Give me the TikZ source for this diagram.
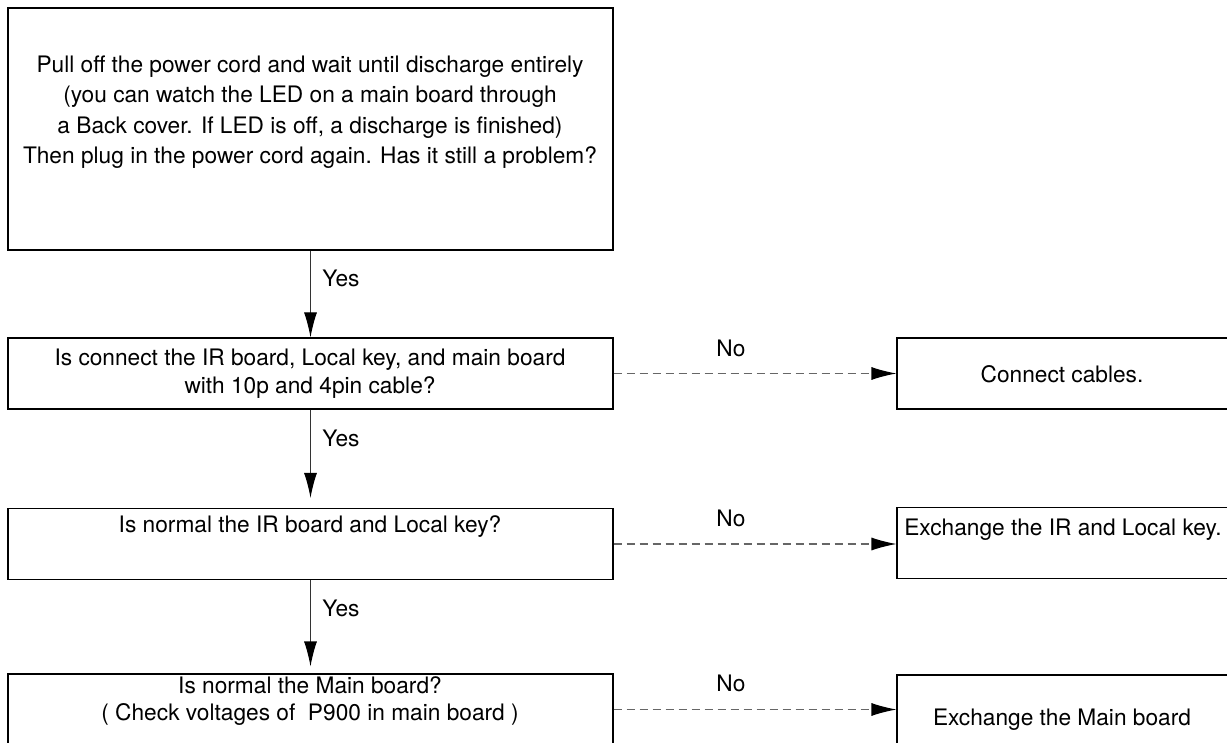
\documentclass[tikz,border=0pt]{standalone}
\usepackage{fontspec}
\setmainfont{TeX Gyre Heros}
\usetikzlibrary{arrows.meta,calc}

\begin{document}
\begin{tikzpicture}[x=1pt,y=-1pt,
    box/.style={draw=black,line width=1.1pt,minimum width=605pt,minimum height=71pt,inner sep=0pt},
    sidebox/.style={draw=black,line width=1.1pt,minimum width=332pt,minimum height=71pt,inner sep=0pt},
    txt/.style={align=center,font=\fontsize{22.7}{27.5}\selectfont,inner sep=0pt},
    lab/.style={font=\fontsize{22.7}{27.5}\selectfont,inner sep=0pt},
    flow/.style={draw=black!80,line width=1.1pt,-{Latex[length=25pt,width=13pt,black]}},
    noflow/.style={flow,draw=black!60,dash pattern=on 8pt off 5pt}]

        % --- 1. Page frame ---
        \useasboundingbox (0,0) rectangle (1227,743);
        \clip (0,0) rectangle (1227,743);

        % --- 2. Question boxes (left column) ---
        \node[box,minimum height=242pt] (pull) at (310.5,129) {};
        \node[txt,font=\fontsize{22.7}{30.5}\selectfont] (pull-t) at (310,112)
            {Pull off the power cord and wait until discharge entirely\\
             (you can watch the LED on a main board through\\
             a Back cover. If LED is off, a discharge is finished)\\
             Then plug in the power cord again. Has it still a problem?};

        \node[box] (cable) at (310.5,373.5) {};
        \node[txt] (cable-t) at (310,373.5)
            {Is connect the IR board, Local key, and main board\\with 10p and 4pin cable?};

        \node[box] (irkey) at (310.5,544) {};
        \node[txt] (irkey-t) at (310,527) {Is normal the IR board and Local key?};

        \node[box] (mainb) at (310.5,709.5) {};
        \node[txt] (mainb-t) at (310,701)
            {Is normal the Main board?\\( Check voltages of~ P900 in main board )};

        % --- 3. Action boxes (right column) ---
        \node[sidebox] (conn) at (1063,373.5) {};
        \node[txt] (conn-t) at (1062,374) {Connect cables.};

        \node[sidebox] (exir) at (1063,543) {};
        \node[txt] (exir-t) at (1063,530) {Exchange the IR and Local key.};

        \node[sidebox,minimum height=90pt] (exmain) at (1063,720) {};
        \node[txt] (exmain-t) at (1062,720) {Exchange the Main board};

        % --- 4. Yes branches ---
        \draw[flow] (pull) -- (cable);
        \draw[flow,shorten >=10pt] (cable) -- (irkey);
        \draw[flow,shorten >=7pt] (irkey) -- (mainb);

        \node[lab] (yes1) at ($(pull.south)+(30.5,28)$) {Yes};
        \node[lab] (yes2) at ($(cable.south)+(30.5,28.5)$) {Yes};
        \node[lab] (yes3) at ($(irkey.south)+(30.5,28.5)$) {Yes};

        % --- 5. No branches ---
        \draw[noflow] (cable.east) -- (cable.east -| conn.west)
            node[lab,pos=0.415,yshift=25pt] (no1) {No};
        \draw[noflow] (irkey.east) -- (irkey.east -| exir.west)
            node[lab,pos=0.415,yshift=26pt] (no2) {No};
        \draw[noflow] (mainb.east) -- (mainb.east -| exmain.west)
            node[lab,pos=0.415,yshift=26pt] (no3) {No};
\end{tikzpicture}
\end{document}
